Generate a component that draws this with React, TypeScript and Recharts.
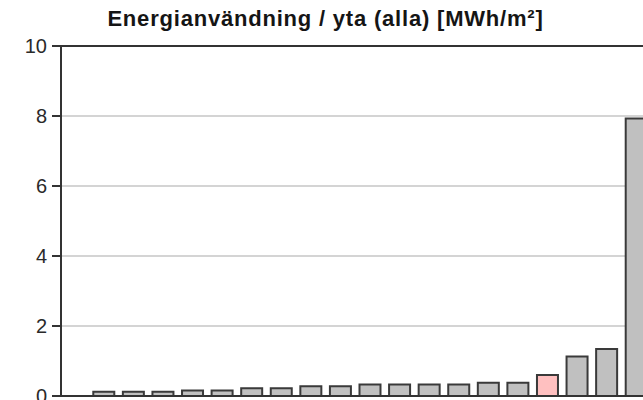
import React from "react";
import { BarChart, Bar, XAxis, YAxis, CartesianGrid, ReferenceLine, Cell } from "recharts";

const categories = ["B1","B2","B3","B4","B5","B6","B7","B8","B9","B10","B11","B12","B13","B14","B15","B16","B17","B18","B19"];
const values = [0.12,0.12,0.12,0.16,0.16,0.22,0.22,0.28,0.28,0.33,0.33,0.33,0.33,0.38,0.38,0.6,1.13,1.34,7.93];
const highlightIndex = 15;
const yTicks = [0, 2, 4, 6, 8, 10];
const title = "Energianvändning / yta (alla) [MWh/m²]";

const data = categories.map((name, i) => ({ name, value: values[i] }));

export default function App() {
  return (
    <div style={{ position: "fixed", left: 0, top: 0, width: 643, height: 400, overflow: "hidden", background: "#fff" }}>
      <div style={{ position: "absolute", left: 0, top: 6, width: 651, textAlign: "center", fontFamily: "'Liberation Sans', Arial, sans-serif", fontWeight: "bold", fontSize: 22, color: "#151515", letterSpacing: 0.8, whiteSpace: "nowrap" }}>
        {title}
      </div>
      <div style={{ position: "absolute", left: 0, top: 0 }}>
        <BarChart width={700} height={450} data={data} margin={{ top: 46, right: 49, bottom: 54, left: 0 }} barCategoryGap="14.5%">
          <CartesianGrid vertical={false} stroke="#d4d4d4" strokeWidth={2} />
          <XAxis dataKey="name" hide padding={{ left: 28, right: 0 }} />
          <YAxis domain={[0, 10]} ticks={yTicks} width={61} tickSize={9} tickMargin={5}
            axisLine={{ stroke: "#333", strokeWidth: 2 }} tickLine={{ stroke: "#333", strokeWidth: 2 }}
            tick={{ fill: "#2a2a2a", fontSize: 20, fontFamily: "'Liberation Sans', Arial, sans-serif" }} />
          <ReferenceLine y={10} stroke="#333" strokeWidth={2} />
          <Bar dataKey="value" stroke="#3a3a3a" strokeWidth={2} isAnimationActive={false}>
            {data.map((d, i) => (
              <Cell key={d.name} fill={i === highlightIndex ? "#ffc0c0" : "#c0c0c0"} />
            ))}
          </Bar>
          <ReferenceLine y={0} stroke="#333" strokeWidth={2} />
        </BarChart>
      </div>
    </div>
  );
}
